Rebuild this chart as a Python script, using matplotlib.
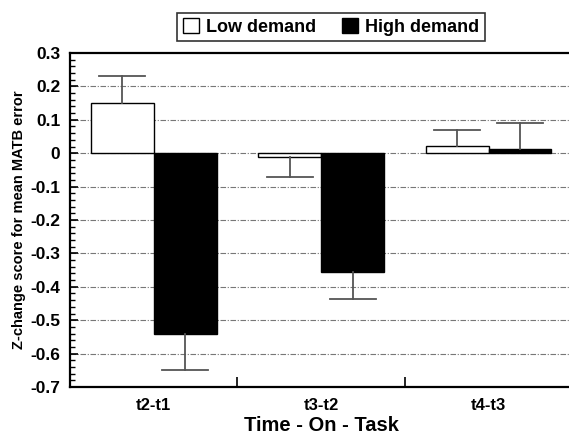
import numpy as np
import matplotlib
matplotlib.use("Agg")
import matplotlib.pyplot as plt
from matplotlib.ticker import MultipleLocator, FixedLocator

plt.rcParams['font.family'] = ['Liberation Sans', 'DejaVu Sans']
plt.rcParams['font.weight'] = 'bold'

groups = ["t2-t1", "t3-t2", "t4-t3"]
low_demand = [0.15, -0.01, 0.022]
high_demand = [-0.54, -0.357, 0.014]
# one-sided error bars (extent away from zero)
low_err = [0.08, 0.06, 0.048]
high_err = [0.108, 0.08, 0.075]

fig = plt.figure(figsize=(5.69, 4.36), dpi=100)
ax = fig.add_axes([70/569, 1 - 387/436, 1.006 - 70/569, (387 - 53)/436])

x = np.arange(len(groups))
w = 0.375
cap = 0.137

ax.bar(x - w/2, low_demand, w, color='white', edgecolor='black', linewidth=1,
       label='Low demand', zorder=3)
ax.bar(x + w/2, high_demand, w, color='black', edgecolor='black', linewidth=1,
       label='High demand', zorder=3)

# error bars: only the whisker pointing away from zero, one cap
for xs, vals, errs in [(x - w/2, low_demand, low_err), (x + w/2, high_demand, high_err)]:
    for xi, v, e in zip(xs, vals, errs):
        tip = v + e if v >= 0 else v - e
        ax.plot([xi, xi], [v, tip], color='#555555', linewidth=1.3, zorder=4)
        ax.plot([xi - cap, xi + cap], [tip, tip], color='#555555', linewidth=1.3, zorder=4)

ax.set_xlim(-0.5, 2.5)
ax.set_ylim(-0.7, 0.3)
yt = np.round(np.arange(-0.7, 0.31, 0.1), 1)
ax.set_yticks(yt)
ax.set_yticklabels(["0" if v == 0 else "%.1f" % v for v in yt], fontsize=12.5, fontweight='bold')
ax.yaxis.set_minor_locator(MultipleLocator(0.02))

ax.set_xticks(x)
ax.set_xticklabels(groups, fontsize=12, fontweight='bold')
ax.xaxis.set_minor_locator(FixedLocator([0.5, 1.5]))
ax.tick_params(axis='x', which='major', length=0, pad=8)
ax.tick_params(axis='x', which='minor', direction='in', length=7, width=1.2)
ax.tick_params(axis='y', which='major', direction='in', length=6, width=1.2, pad=7)
ax.tick_params(axis='y', which='minor', direction='in', length=3.5, width=1)

for yv in yt[1:-1]:
    ax.axhline(yv, color='#777777', linestyle=(0, (5, 1.5, 1, 1.5)), linewidth=0.8, zorder=1)

for s in ['left', 'bottom', 'top']:
    ax.spines[s].set_linewidth(1.6)
ax.spines['right'].set_visible(False)

ax.set_xlabel("Time - On - Task", fontsize=14.5, fontweight='bold', labelpad=2)
ax.set_ylabel("Z-change score for mean MATB error", fontsize=10.5, fontweight='bold', labelpad=3)

leg = fig.legend(loc='center', bbox_to_anchor=(331/569, 1 - 27/436), ncol=2, frameon=True,
                 fancybox=False, edgecolor='black', fontsize=13, handlelength=0.9,
                 handleheight=0.9, columnspacing=1.4, handletextpad=0.4, borderpad=0.3)
leg.get_frame().set_linewidth(1.2)
for t in leg.get_texts():
    t.set_fontweight('bold')

fig.savefig("out.png", dpi=100)
